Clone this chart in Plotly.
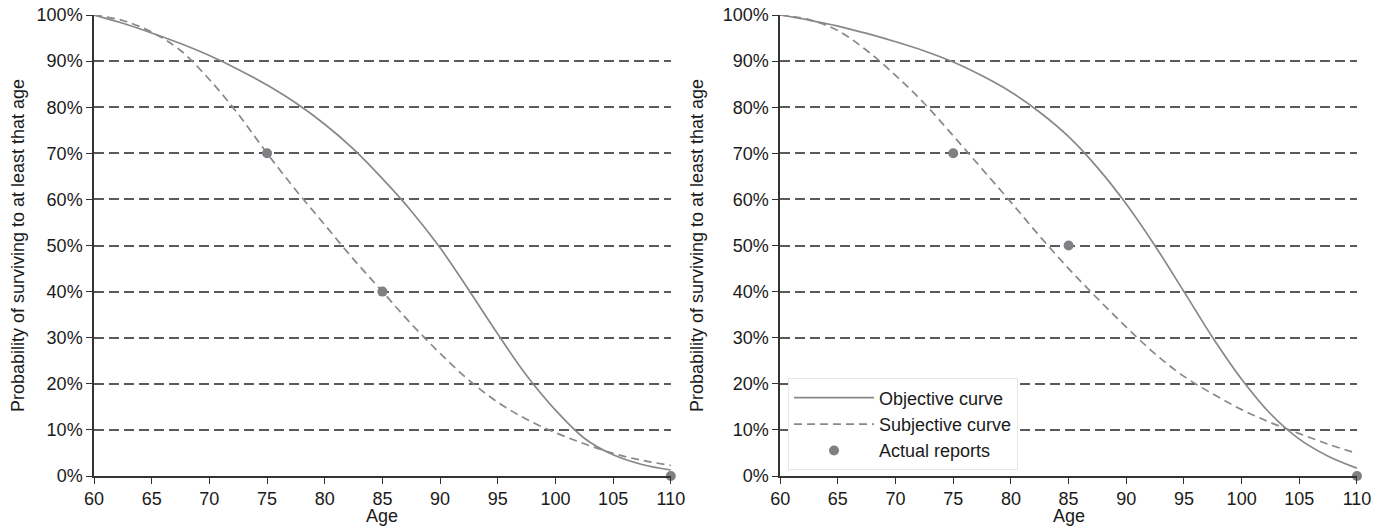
import plotly.graph_objects as go
from plotly.subplots import make_subplots

ages = [60, 62.5, 65, 67.5, 70, 72.5, 75, 77.5, 80, 82.5, 85, 87.5,
        90, 92.5, 95, 97.5, 100, 102.5, 105, 107.5, 110]

# left panel (probabilities)
left_objective = [1.000, 0.982, 0.961, 0.938, 0.912, 0.882, 0.848, 0.809, 0.763, 0.709, 0.645, 0.575,
                  0.495, 0.403, 0.308, 0.218, 0.143, 0.082, 0.046, 0.025, 0.013]
left_subjective = [1.000, 0.988, 0.963, 0.923, 0.860, 0.785, 0.700, 0.620, 0.545, 0.470, 0.400, 0.330,
                   0.266, 0.208, 0.160, 0.123, 0.094, 0.070, 0.049, 0.034, 0.023]
left_report_age = [75, 85, 110]
left_report_prob = [0.70, 0.40, 0.00]

# right panel
right_objective = [1.000, 0.989, 0.976, 0.960, 0.942, 0.922, 0.898, 0.868, 0.833, 0.789, 0.736, 0.669,
                   0.590, 0.499, 0.400, 0.300, 0.210, 0.135, 0.080, 0.043, 0.017]
right_subjective = [1.000, 0.990, 0.966, 0.923, 0.869, 0.808, 0.738, 0.666, 0.594, 0.520, 0.450, 0.385,
                    0.323, 0.265, 0.216, 0.178, 0.144, 0.116, 0.092, 0.069, 0.049]
right_report_age = [75, 85, 110]
right_report_prob = [0.70, 0.50, 0.00]

age_ticks = [60, 65, 70, 75, 80, 85, 90, 95, 100, 105, 110]
prob_ticks = [i / 10 for i in range(11)]

curve_col = '#888888'
dot_col = '#7f7f84'
txt_col = '#1a1a1a'
axis_col = '#333333'

fig = make_subplots(rows=1, cols=2, horizontal_spacing=0.0866)

panels = [(left_objective, left_subjective, left_report_age, left_report_prob),
          (right_objective, right_subjective, right_report_age, right_report_prob)]

for i, (obj, subj, rep_x, rep_y) in enumerate(panels):
    col = i + 1
    show = (col == 2)
    fig.add_trace(go.Scatter(x=ages, y=obj, mode='lines', name='Objective curve',
                             line=dict(color=curve_col, width=1.7, shape='spline'),
                             showlegend=show), row=1, col=col)
    fig.add_trace(go.Scatter(x=ages, y=subj, mode='lines', name='Subjective curve',
                             line=dict(color=curve_col, width=1.7, shape='spline', dash='8px,5px'),
                             showlegend=show), row=1, col=col)
    fig.add_trace(go.Scatter(x=rep_x, y=rep_y, mode='markers', name='Actual reports',
                             marker=dict(color=dot_col, size=10),
                             cliponaxis=False, showlegend=show), row=1, col=col)

fig.update_xaxes(range=[60, 110], tickvals=age_ticks, showgrid=False,
                 showline=True, linecolor=axis_col, linewidth=1.5,
                 ticks='outside', ticklen=6, tickcolor=axis_col, tickwidth=1.3,
                 zeroline=False, automargin=False,
                 tickfont=dict(size=18, color=txt_col))
fig.update_yaxes(range=[0, 1], tickvals=prob_ticks, tickformat='.0%',
                 showgrid=True, gridcolor='#5a5a5a', gridwidth=1.5, griddash='10px,5px',
                 showline=True, linecolor=axis_col, linewidth=1.5,
                 ticks='outside', ticklen=6, tickcolor=axis_col, tickwidth=1.3,
                 zeroline=False, ticklabeloverflow='allow', automargin=False,
                 title=dict(text='Probability of surviving to at least that age',
                            standoff=14, font=dict(size=18, color=txt_col)),
                 tickfont=dict(size=18, color=txt_col))

# "Age" titles as annotations so they sit below the tick labels
for xref in ['x domain', 'x2 domain']:
    fig.add_annotation(text='Age', xref=xref, yref='paper', x=0.5, y=-0.086,
                       xanchor='center', yanchor='middle', showarrow=False,
                       font=dict(size=18, color=txt_col))

# page body has an 8px margin, so the figure starts at (8, 8) in the window
fig.update_layout(
    width=1377, height=521,
    margin=dict(l=86, r=28, t=7, b=53),
    paper_bgcolor='white', plot_bgcolor='white',
    font=dict(family='Liberation Sans, Arial, sans-serif', size=18, color=txt_col),
    legend=dict(x=0.5495, y=0.012, xanchor='left', yanchor='bottom',
                bgcolor='white', bordercolor='#e6e6e6', borderwidth=1,
                font=dict(size=18, color=txt_col), itemwidth=80,
                tracegroupgap=0),
    showlegend=True,
)

fig.write_html("out.html")
